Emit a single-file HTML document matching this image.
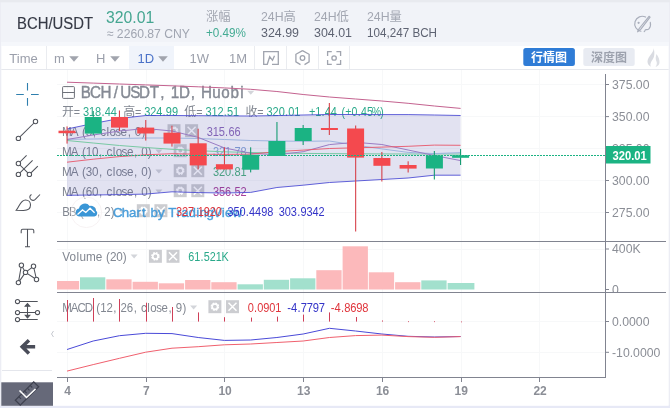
<!DOCTYPE html>
<html lang="zh-CN"><head><meta charset="utf-8"><title>BCH/USDT</title>
<style>
html,body{margin:0;padding:0;background:#eff2f8;}
body{width:670px;height:408px;overflow:hidden;position:relative;font-family:"Liberation Sans", "Noto Sans CJK SC", sans-serif;}
svg{position:absolute;left:0;top:0;display:block;}
text{font-family:"Liberation Sans", "Noto Sans CJK SC", sans-serif;}
</style></head><body>
<svg width="670" height="408" viewBox="0 0 670 408" role="img" aria-label="BCH/USDT chart">
<rect x="0" y="0" width="670" height="408" fill="#ecedf4"/>
<rect x="0" y="0" width="670" height="2.2" fill="#e8eaef"/>
<rect x="1" y="2.5" width="668" height="44" fill="#f1f3f8"/>
<rect x="1" y="42" width="668" height="4" fill="#f5f7fb"/>
<rect x="0" y="405" width="670" height="3" fill="#e7e9f6"/>
<rect x="1.3" y="46" width="667.4" height="359.8" fill="#ffffff"/>
<rect x="1.3" y="69" width="667.4" height="1" fill="#e6e8ed"/>
<rect x="129" y="46" width="45" height="23" fill="#f0f4fb"/>
<rect x="46.0" y="46" width="1" height="23" fill="#eaecf0"/>
<rect x="254.0" y="46" width="1" height="23" fill="#eaecf0"/>
<rect x="286.0" y="46" width="1" height="23" fill="#eaecf0"/>
<rect x="318.0" y="46" width="1" height="23" fill="#eaecf0"/>
<rect x="349.0" y="46" width="1" height="23" fill="#eaecf0"/>
<text x="17" y="29.2" font-size="16" fill="#363a46" stroke="#363a46" stroke-width="0.15" textLength="76" lengthAdjust="spacingAndGlyphs">BCH/USDT</text>
<text x="106" y="22.5" font-size="16.5" fill="#45a691" textLength="48.3" lengthAdjust="spacingAndGlyphs">320.01</text>
<text x="106.8" y="37.5" font-size="13" fill="#a0a5b1" textLength="83.2" lengthAdjust="spacingAndGlyphs">≈ 2260.87 CNY</text>
<text x="206" y="21" font-size="12.3" fill="#a3a7b2">涨幅</text>
<text x="206" y="37" font-size="12.5" fill="#44ab93" textLength="40" lengthAdjust="spacingAndGlyphs">+0.49%</text>
<text x="261" y="21" font-size="12.3" fill="#a3a7b2">24H高</text>
<text x="261" y="37" font-size="12.5" fill="#5e6372" textLength="38" lengthAdjust="spacingAndGlyphs">324.99</text>
<text x="314" y="21" font-size="12.3" fill="#a3a7b2">24H低</text>
<text x="314" y="37" font-size="12.5" fill="#5e6372" textLength="38" lengthAdjust="spacingAndGlyphs">304.01</text>
<text x="367" y="21" font-size="12.3" fill="#a3a7b2">24H量</text>
<text x="367" y="37" font-size="12.5" fill="#5e6372" textLength="70" lengthAdjust="spacingAndGlyphs">104,247 BCH</text>
<g fill="none" stroke="#a9aebb" stroke-width="1.15" stroke-linecap="round" stroke-linejoin="round">
<path d="M645.6 17.1a7.5 7.5 0 1 0 -4.6 14.1M650.3 22.3a7.5 7.5 0 0 1 -1.4 6.6c-1.2 1.3 -2.6 0.4 -3.4 0.9c-0.9 0.6 -0.4 1.6 -1.4 1.9"/>
<path d="M649 16.3l-9.8 12.2l-1.6 3.3l2.900 -2.2l9.600 -12.4z"/>
<circle cx="638.6" cy="22.8" r="0.55"/>
</g>
<text x="9.3" y="62.5" font-size="13" fill="#9b9fab">Time</text>
<text x="54" y="62.5" font-size="13" fill="#9b9fab">m</text>
<text x="96" y="62.5" font-size="13" fill="#9b9fab">H</text>
<text x="137.5" y="62.5" font-size="13" fill="#4b72c8">1D</text>
<text x="189.5" y="62.5" font-size="13" fill="#9b9fab">1W</text>
<text x="229" y="62.5" font-size="13" fill="#9b9fab">1M</text>
<path d="M69.2 56.3h9.6l-4.8 5.4z" fill="#a1a4ad"/>
<path d="M110.2 56.3h9.6l-4.8 5.4z" fill="#a1a4ad"/>
<path d="M158.2 56.3h9.6l-4.8 5.4z" fill="#a1a4ad"/>
<g fill="none" stroke="#a0a4ae" stroke-width="1.3">
<path d="M272 64.3h6.3v-12.6h-14.6v12.6h3.6l2.4 -7.6l2.8 3.6l2 -4.6"/>
<path d="M302.5 50.6l6.6 3.7v7.6l-4.6 2.7m-4 0l-4.6 -2.7v-7.6l6.6 -3.7"/><circle cx="302.5" cy="58" r="2.3"/>
<path d="M327.6 56v-4.300h4.200M336.400 51.700h4.200v4.300M340.600 60v4.300h-4.200M331.800 64.300h-4.200v-4.300"/><circle cx="334.1" cy="58" r="2.2"/>
</g>
<rect x="523.3" y="48" width="51.6" height="18" rx="2.5" fill="#2f7cd6"/>
<text x="549" y="61.5" font-size="12" font-weight="bold" fill="#ffffff" text-anchor="middle">行情图</text>
<rect x="583.3" y="48" width="51.4" height="18" rx="2.5" fill="#e8ebf2"/>
<text x="609" y="61.5" font-size="12" font-weight="bold" fill="#9da2ae" text-anchor="middle">深度图</text>
<path d="M653.5 47.5c1.500 4.200 -6 9 -6 14c0 2.600 1.500 4.300 3.300 5.200c-1.200 -2.600 0.300 -5 2 -7.400c1.600 -2.500 2.200 -6.300 0.700 -11.800z" fill="#d9dbe1"/>
<path d="M656.500 54c2.200 3 3 5.700 3 8.300c0 2.400 -1.600 4 -4 4.700c1.800 -2.400 1.600 -4.600 0.600 -6.500c-0.600 -1.800 -0.400 -4 0.400 -6.500z" fill="#dddfe4"/>
<rect x="2" y="370" width="50" height="1" fill="#e4e6ec"/>
<g stroke="#2f7fae" stroke-width="1.1" fill="none">
<path d="M27.5 83v7.600M27.500 98v7.700M16.200 94.500h7.600M31 94.500h7.700"/>
</g>
<g stroke="#50535b" stroke-width="1.05" fill="#fff">
<path d="M18.400 138.400L35.500 121.500" fill="none"/><circle cx="35.5" cy="121.500" r="2.200"/><circle cx="18.400" cy="138.400" r="2.200"/>
<path d="M18.400 163.500l8.200 -8.200M18.400 174.400l14.200 -14M18.400 163.500l11 10.900l8.400 -8.300" fill="none"/>
<circle cx="18.400" cy="163.500" r="2.200"/><circle cx="18.400" cy="174.400" r="2.200"/><circle cx="29.400" cy="174.400" r="2.200"/>
<path d="M16.300 210.200c3 -3.300 4.200 -10.200 9.200 -10.200c3 0 5 2.300 5 5c0 3.700 -3.300 5.400 -7 5.400z" fill="none"/>
<path d="M31.500 194.500c-1.800 0.800 -2.200 2.800 -1 4.500c1.300 1.500 3.400 1.500 4.800 0.300l4.700 -4.800" fill="none"/>
<path d="M21.200 233.300v-2.500c0 -1 0.500 -1.500 1.500 -1.500h9.600c1 0 1.500 0.500 1.500 1.500v2.500M27.500 229.300v17.400M25 246.700h5" fill="none"/>
<path d="M21.400 265.300l-3 17.300l7.100 -10.200l-4.100 -7.100M25.500 272.400l8 -6.100l3 13.200l-11 -7.100" fill="none"/>
<circle cx="21.4" cy="265.3" r="2.200"/>
<circle cx="33.5" cy="266.3" r="2.200"/>
<circle cx="25.5" cy="272.4" r="2.200"/>
<circle cx="36.5" cy="279.5" r="2.200"/>
<circle cx="18.4" cy="282.6" r="2.200"/>
<path d="M17.500 301.500h20.200M17.500 312.500h20M17.500 319.500h20.200M27.500 304.500v12.500" fill="none"/>
<path d="M25.200 306.200l2.300 -2.700l2.300 2.700zM25.200 315.200l2.300 2.700l2.300 -2.700z" fill="#50535b"/>
<circle cx="17.5" cy="301.5" r="2.100"/>
<circle cx="17.5" cy="312.5" r="2.100"/>
<circle cx="17.5" cy="319.5" r="2.100"/>
<circle cx="37.5" cy="312.5" r="2.100"/>
</g>
<path d="M33.4 346.800h-10.500M27.700 341.400l-5.500 5.400l5.500 5.400" fill="none" stroke="#4a4d59" stroke-width="3.500" stroke-linecap="square" stroke-linejoin="miter"/>
<path d="M53.500 331l-2 3l2 3" fill="none" stroke="#c5c8cf" stroke-width="1"/>
<rect x="1.300" y="382.300" width="51.700" height="23.500" fill="#666979"/>
<g transform="translate(27 393.500) rotate(-45)"><rect x="-13" y="-3.500" width="26" height="7" fill="none" stroke="#3f4250" stroke-width="1.300"/>
<path d="M-8 -3.500v3M-4 -3.500v3M0 -3.500v3M4 -3.500v3M8 -3.500v3" stroke="#3f4250" stroke-width="1.100" fill="none"/></g>
<path d="M19.500 390.500l7 7l9 -8.500" fill="none" stroke="#ffffff" stroke-width="1.600"/>
<g fill="#f7f8f9">
<rect x="67" y="70" width="1" height="307"/>
<rect x="146" y="70" width="1" height="307"/>
<rect x="224" y="70" width="1" height="307"/>
<rect x="303" y="70" width="1" height="307"/>
<rect x="382" y="70" width="1" height="307"/>
<rect x="461" y="70" width="1" height="307"/>
<rect x="539" y="70" width="1" height="307"/>
<rect x="57" y="84" width="548" height="1"/>
<rect x="57" y="116" width="548" height="1"/>
<rect x="57" y="148" width="548" height="1"/>
<rect x="57" y="180" width="548" height="1"/>
<rect x="57" y="212" width="548" height="1"/>
<rect x="57" y="249" width="548" height="1"/>
<rect x="57" y="321" width="548" height="1"/>
<rect x="57" y="352" width="548" height="1"/>
</g>
<rect x="62.6" y="86.6" width="11.8" height="11.8" rx="0.8" fill="none" stroke="#6e7179" stroke-width="1"/>
<path d="M62.6 92.5h11.8" stroke="#6e7179" stroke-width="1"/>
<text transform="translate(81.00 98.40) scale(0.944 1)" x="-0.34 9.57 20.72 34.78 41.63 52.12 61.42 72.94 84.06 90.01 95.11 103.89 116.19 122.14 127.06 139.07 148.71 158.45 168.64" y="0" font-size="16.13" fill="#858a94" stroke="#858a94" stroke-width="0.4">BCH/USDT, 1D, Huobi</text>
<path d="M247.3 90.8h7l-3.5 4z" fill="#d3d5da"/>
<text x="62" y="116.0" font-size="12" fill="#828791">开</text>
<text transform="translate(73.80 116.00) scale(0.880 1)" x="0.00" y="0" font-size="12.24" fill="#828791">=</text>
<text transform="translate(83.09 116.00) scale(0.904 1)" x="-0.06 6.61 13.28 20.28 23.89 30.55" y="0" font-size="12.19" fill="#2aa98a">318.44</text>
<text x="123.18299999999998" y="116.0" font-size="12" fill="#828791">高</text>
<text transform="translate(134.98 116.00) scale(0.880 1)" x="0.00" y="0" font-size="12.24" fill="#828791">=</text>
<text transform="translate(144.27 116.00) scale(0.904 1)" x="-0.06 6.61 13.28 20.28 23.89 30.55" y="0" font-size="12.19" fill="#2aa98a">324.99</text>
<text x="184.36599999999999" y="116.0" font-size="12" fill="#828791">低</text>
<text transform="translate(196.17 116.00) scale(0.880 1)" x="0.00" y="0" font-size="12.24" fill="#828791">=</text>
<text transform="translate(205.45 116.00) scale(0.904 1)" x="-0.06 6.61 13.28 20.28 23.89 30.55" y="0" font-size="12.19" fill="#2aa98a">312.51</text>
<text x="245.549" y="116.0" font-size="12" fill="#828791">收</text>
<text transform="translate(257.35 116.00) scale(0.880 1)" x="0.00" y="0" font-size="12.24" fill="#828791">=</text>
<text transform="translate(266.64 116.00) scale(0.904 1)" x="-0.06 6.61 13.28 20.28 23.89 30.55" y="0" font-size="12.19" fill="#2aa98a">320.01</text>
<text transform="translate(309.23 116.00) scale(0.897 1)" x="-0.20 6.69 13.73 17.38 24.09" y="0" font-size="12.19" fill="#2aa98a">+1.44</text>
<text transform="translate(341.10 116.00) scale(0.864 1)" x="0.41 4.82 11.96 19.21 23.07 30.04 35.50 45.32" y="0" font-size="12.19" fill="#2aa98a">(+0.45%)</text>
<text transform="translate(62.70 135.90) scale(0.956 1)" x="-0.70 8.36 16.26 20.07 24.22 31.45 35.59 39.16 45.76 48.87 55.05 60.59 67.95 72.08 75.50 82.38" y="0" font-size="12.24" fill="#828791">MA (5, close, 0)</text>
<path d="M149.2 129.4h7l-3.5 4z" fill="#d3d5da"/>
<g opacity="0.95">
<rect x="167.5" y="124.2" width="13" height="13" fill="#cacbcf"/>
<circle cx="174.0" cy="130.7" r="3.1" fill="none" stroke="#ffffff" stroke-width="2.4" stroke-dasharray="1.6 0.83"/>
<circle cx="174.0" cy="130.7" r="2.7" fill="none" stroke="#ffffff" stroke-width="1.4"/>
<rect x="185.1" y="124.2" width="13" height="13" fill="#cacbcf"/>
<path d="M187.6 126.7l8 8m0 -8l-8 8" stroke="#ffffff" stroke-width="1.5" fill="none"/>
</g>
<text transform="translate(206.79 135.90) scale(0.904 1)" x="-0.06 6.61 13.28 20.28 23.89 30.55" y="0" font-size="12.19" fill="#8f6cbb">315.66</text>
<text transform="translate(62.70 155.90) scale(0.953 1)" x="-0.69 8.41 16.33 20.15 24.33 30.85 38.09 42.25 45.84 52.45 55.59 61.79 67.35 74.73 78.88 82.31 89.22" y="0" font-size="12.24" fill="#828791">MA (10, close, 0)</text>
<path d="M155.4 149.4h7l-3.5 4z" fill="#d3d5da"/>
<g opacity="0.95">
<rect x="173.7" y="144.2" width="13" height="13" fill="#cacbcf"/>
<circle cx="180.2" cy="150.7" r="3.1" fill="none" stroke="#ffffff" stroke-width="2.4" stroke-dasharray="1.6 0.83"/>
<circle cx="180.2" cy="150.7" r="2.7" fill="none" stroke="#ffffff" stroke-width="1.4"/>
<rect x="191.3" y="144.2" width="13" height="13" fill="#cacbcf"/>
<path d="M193.8 146.7l8 8m0 -8l-8 8" stroke="#ffffff" stroke-width="1.5" fill="none"/>
</g>
<text transform="translate(213.00 155.90) scale(0.904 1)" x="-0.06 6.61 13.28 20.28 23.89 30.55" y="0" font-size="12.19" fill="#87a5d8">321.78</text>
<text transform="translate(62.70 175.90) scale(0.953 1)" x="-0.69 8.41 16.33 20.15 24.33 30.85 38.09 42.25 45.84 52.45 55.59 61.79 67.35 74.73 78.88 82.31 89.22" y="0" font-size="12.24" fill="#828791">MA (30, close, 0)</text>
<path d="M155.4 169.4h7l-3.5 4z" fill="#d3d5da"/>
<g opacity="0.95">
<rect x="173.7" y="164.2" width="13" height="13" fill="#cacbcf"/>
<circle cx="180.2" cy="170.7" r="3.1" fill="none" stroke="#ffffff" stroke-width="2.4" stroke-dasharray="1.6 0.83"/>
<circle cx="180.2" cy="170.7" r="2.7" fill="none" stroke="#ffffff" stroke-width="1.4"/>
<rect x="191.3" y="164.2" width="13" height="13" fill="#cacbcf"/>
<path d="M193.8 166.7l8 8m0 -8l-8 8" stroke="#ffffff" stroke-width="1.5" fill="none"/>
</g>
<text transform="translate(213.00 175.90) scale(0.904 1)" x="-0.06 6.61 13.28 20.28 23.89 30.55" y="0" font-size="12.19" fill="#4cb27e">320.81</text>
<text transform="translate(62.70 195.90) scale(0.953 1)" x="-0.69 8.41 16.33 20.15 24.33 30.85 38.09 42.25 45.84 52.45 55.59 61.79 67.35 74.73 78.88 82.31 89.22" y="0" font-size="12.24" fill="#828791">MA (60, close, 0)</text>
<path d="M155.4 189.4h7l-3.5 4z" fill="#d3d5da"/>
<g opacity="0.95">
<rect x="173.7" y="184.2" width="13" height="13" fill="#cacbcf"/>
<circle cx="180.2" cy="190.7" r="3.1" fill="none" stroke="#ffffff" stroke-width="2.4" stroke-dasharray="1.6 0.83"/>
<circle cx="180.2" cy="190.7" r="2.7" fill="none" stroke="#ffffff" stroke-width="1.4"/>
<rect x="191.3" y="184.2" width="13" height="13" fill="#cacbcf"/>
<path d="M193.8 186.7l8 8m0 -8l-8 8" stroke="#ffffff" stroke-width="1.5" fill="none"/>
</g>
<text transform="translate(213.00 195.90) scale(0.904 1)" x="-0.06 6.61 13.28 20.28 23.89 30.55" y="0" font-size="12.19" fill="#a9419b">356.52</text>
<text transform="translate(62.70 215.90) scale(0.933 1)" x="-0.49 6.70 14.58 18.48 22.77 29.43 36.78 41.02 44.56 51.58" y="0" font-size="12.24" fill="#828791">BB (20, 2)</text>
<path d="M118.5 209.4h7l-3.5 4z" fill="#d3d5da"/>
<g opacity="0.95">
<rect x="136.8" y="204.2" width="13" height="13" fill="#cacbcf"/>
<circle cx="143.3" cy="210.7" r="3.1" fill="none" stroke="#ffffff" stroke-width="2.4" stroke-dasharray="1.6 0.83"/>
<circle cx="143.3" cy="210.7" r="2.7" fill="none" stroke="#ffffff" stroke-width="1.4"/>
<rect x="154.4" y="204.2" width="13" height="13" fill="#cacbcf"/>
<path d="M156.9 206.7l8 8m0 -8l-8 8" stroke="#ffffff" stroke-width="1.5" fill="none"/>
</g>
<text transform="translate(113.90 216.50) scale(0.980 1)" x="-0.84 8.06 15.33 23.04 28.75 33.48 37.42 44.93 51.82 55.55 64.02 68.71 76.06 84.04 87.42 94.53 101.17 110.11 113.48 121.11" y="0" font-size="13.57" fill="#3d97d8" fill-opacity="0.9" stroke="#3d97d8" stroke-width="0.45" stroke-opacity="0.8">Chart by TradingView</text>
<text transform="translate(176.12 215.90) scale(0.900 1)" x="-0.04 6.65 13.35 20.37 24.01 30.70 37.40 44.10" y="0" font-size="12.19" fill="#e0353c">327.1920</text>
<text transform="translate(227.47 215.90) scale(0.900 1)" x="-0.04 6.65 13.35 20.37 24.01 30.70 37.40 44.10" y="0" font-size="12.19" fill="#3434c8">350.4498</text>
<text transform="translate(278.82 215.90) scale(0.900 1)" x="-0.04 6.65 13.35 20.37 24.01 30.70 37.40 44.10" y="0" font-size="12.19" fill="#3434c8">303.9342</text>
<text transform="translate(62.70 261.00) scale(0.959 1)" x="-0.46 7.16 14.35 17.49 24.30 34.48 41.41 45.20 49.34 55.81 62.67" y="0" font-size="12.24" fill="#828791">Volume (20)</text>
<path d="M130.6 254.5h7l-3.5 4z" fill="#d3d5da"/>
<g opacity="0.95">
<rect x="148.9" y="249.8" width="13" height="13" fill="#cacbcf"/>
<circle cx="155.4" cy="256.3" r="3.1" fill="none" stroke="#ffffff" stroke-width="2.4" stroke-dasharray="1.6 0.83"/>
<circle cx="155.4" cy="256.3" r="2.7" fill="none" stroke="#ffffff" stroke-width="1.4"/>
<rect x="166.5" y="249.8" width="13" height="13" fill="#cacbcf"/>
<path d="M169.0 252.3l8 8m0 -8l-8 8" stroke="#ffffff" stroke-width="1.5" fill="none"/>
</g>
<text transform="translate(188.16 261.00) scale(0.888 1)" x="0.00 6.79 13.89 17.59 24.38 31.17 37.61" y="0" font-size="12.19" fill="#2aa98a">61.521K</text>
<text transform="translate(62.70 311.90) scale(0.936 1)" x="-0.61 8.63 15.81 23.48 31.98 35.87 40.15 46.78 54.12 58.35 61.87 68.50 75.84 80.07 83.75 90.45 93.68 99.98 105.65 113.13 117.36 120.88 127.88" y="0" font-size="12.24" fill="#828791">MACD (12, 26, close, 9)</text>
<path d="M190.1 305.4h7l-3.5 4z" fill="#d3d5da"/>
<g opacity="0.95">
<rect x="208.4" y="300.2" width="13" height="13" fill="#cacbcf"/>
<circle cx="214.9" cy="306.7" r="3.1" fill="none" stroke="#ffffff" stroke-width="2.4" stroke-dasharray="1.6 0.83"/>
<circle cx="214.9" cy="306.7" r="2.7" fill="none" stroke="#ffffff" stroke-width="1.4"/>
<rect x="226.0" y="300.2" width="13" height="13" fill="#cacbcf"/>
<path d="M228.5 302.7l8 8m0 -8l-8 8" stroke="#ffffff" stroke-width="1.5" fill="none"/>
</g>
<text transform="translate(247.69 311.90) scale(0.904 1)" x="-0.06 6.94 10.56 17.22 23.89 30.55" y="0" font-size="12.19" fill="#e0353c">0.0901</text>
<text transform="translate(286.98 311.90) scale(0.917 1)" x="0.27 4.50 11.42 14.95 21.52 28.09 34.66" y="0" font-size="12.19" fill="#3434c8">-4.7797</text>
<text transform="translate(330.50 311.90) scale(0.917 1)" x="0.27 4.50 11.42 14.95 21.52 28.09 34.66" y="0" font-size="12.19" fill="#e0353c">-4.8698</text>
<polygon points="67.0,129.0 93.2,123.5 119.5,118.5 145.7,115.5 172.0,115.5 198.2,115.7 224.4,115.9 250.7,116.0 276.9,115.6 303.2,115.0 329.4,114.5 355.6,114.5 381.9,114.6 408.1,114.6 434.4,115.0 460.6,115.5 460.6,175.2 434.4,175.2 408.1,178.0 381.9,179.5 355.6,181.0 329.4,182.5 303.2,185.2 276.9,187.5 250.7,192.4 224.4,193.0 198.2,192.6 172.0,191.8 145.7,194.1 119.5,194.6 93.2,195.0 67.0,195.3" fill="#3a3a9e" fill-opacity="0.15"/>
<polyline points="67.0,82.2 93.2,83.1 119.5,84.0 145.7,84.9 172.0,85.8 198.2,86.8 224.4,87.9 250.7,89.3 276.9,91.5 303.2,94.5 329.4,97.0 355.6,99.0 381.9,101.0 408.1,103.3 434.4,106.0 460.6,108.4" fill="none" stroke="#c4628f" stroke-width="1" stroke-opacity="1" stroke-linejoin="round"/>
<polyline points="67.0,140.5 93.2,143.0 119.5,145.5 145.7,147.5 172.0,149.3 198.2,150.7 224.4,151.8 250.7,152.5 276.9,153.0 303.2,153.4 329.4,153.6 355.6,153.8 381.9,153.9 408.1,154.0 434.4,154.0 460.6,154.0" fill="none" stroke="#79c9a4" stroke-width="1" stroke-opacity="1" stroke-linejoin="round"/>
<polyline points="67.0,139.3 93.2,139.0 119.5,138.5 145.7,138.0 172.0,138.0 198.2,138.5 224.4,139.5 250.7,140.5 276.9,141.0 303.2,141.3 329.4,141.0 355.6,145.1 381.9,148.9 408.1,152.4 434.4,153.6 460.6,152.6" fill="none" stroke="#9fb4de" stroke-width="1" stroke-opacity="1" stroke-linejoin="round"/>
<polyline points="67.0,139.5 93.2,135.0 119.5,131.0 145.7,128.5 172.0,131.0 198.2,137.4 224.4,147.9 250.7,153.3 276.9,154.8 303.2,151.7 329.4,144.6 355.6,142.3 381.9,144.5 408.1,150.0 434.4,155.5 460.6,160.6" fill="none" stroke="#9a7cc4" stroke-width="1" stroke-opacity="1" stroke-linejoin="round"/>
<polyline points="67.0,162.2 93.2,159.2 119.5,156.6 145.7,154.8 172.0,153.7 198.2,154.2 224.4,154.4 250.7,154.2 276.9,151.6 303.2,150.1 329.4,148.5 355.6,147.8 381.9,147.1 408.1,146.3 434.4,145.1 460.6,145.3" fill="none" stroke="#e8566a" stroke-width="1" stroke-opacity="0.9" stroke-linejoin="round"/>
<polyline points="67.0,129.0 93.2,123.5 119.5,118.5 145.7,115.5 172.0,115.5 198.2,115.7 224.4,115.9 250.7,116.0 276.9,115.6 303.2,115.0 329.4,114.5 355.6,114.5 381.9,114.6 408.1,114.6 434.4,115.0 460.6,115.5" fill="none" stroke="#4646d2" stroke-width="1" stroke-opacity="0.85" stroke-linejoin="round"/>
<polyline points="67.0,195.3 93.2,195.0 119.5,194.6 145.7,194.1 172.0,191.8 198.2,192.6 224.4,193.0 250.7,192.4 276.9,187.5 303.2,185.2 329.4,182.5 355.6,181.0 381.9,179.5 408.1,178.0 434.4,175.2 460.6,175.2" fill="none" stroke="#4646d2" stroke-width="1" stroke-opacity="0.85" stroke-linejoin="round"/>
<rect x="66.5" y="126.4" width="1.100" height="17.2" fill="#d8434c"/>
<rect x="58.5" y="130.7" width="17" height="2.5" fill="#f4494e"/>
<rect x="92.7" y="111.0" width="1.100" height="24.0" fill="#179c72"/>
<rect x="84.7" y="117.0" width="17" height="16.6" fill="#1bb383"/>
<rect x="118.9" y="110.5" width="1.100" height="20.5" fill="#d8434c"/>
<rect x="111.0" y="117.0" width="17" height="10.6" fill="#f4494e"/>
<rect x="145.2" y="120.0" width="1.100" height="20.6" fill="#d8434c"/>
<rect x="137.2" y="127.6" width="17" height="5.9" fill="#f4494e"/>
<rect x="171.4" y="125.7" width="1.100" height="20.9" fill="#d8434c"/>
<rect x="163.5" y="132.7" width="17" height="10.9" fill="#f4494e"/>
<rect x="197.6" y="128.7" width="1.100" height="40.7" fill="#d8434c"/>
<rect x="189.7" y="143.3" width="17" height="22.1" fill="#f4494e"/>
<rect x="223.9" y="147.3" width="1.100" height="22.1" fill="#d8434c"/>
<rect x="215.9" y="164.2" width="17" height="5.2" fill="#f4494e"/>
<rect x="250.1" y="147.3" width="1.100" height="25.1" fill="#179c72"/>
<rect x="242.2" y="154.8" width="17" height="14.9" fill="#1bb383"/>
<rect x="276.4" y="122.0" width="1.100" height="34.0" fill="#179c72"/>
<rect x="268.4" y="141.0" width="17" height="15.0" fill="#1bb383"/>
<rect x="302.6" y="125.0" width="1.100" height="20.0" fill="#179c72"/>
<rect x="294.7" y="128.0" width="17" height="13.0" fill="#1bb383"/>
<rect x="328.8" y="103.0" width="1.100" height="32.0" fill="#d8434c"/>
<rect x="320.9" y="128.0" width="17" height="2.0" fill="#f4494e"/>
<rect x="355.1" y="125.5" width="1.100" height="106.0" fill="#d8434c"/>
<rect x="347.1" y="128.5" width="17" height="29.1" fill="#f4494e"/>
<rect x="381.3" y="152.0" width="1.100" height="29.5" fill="#d8434c"/>
<rect x="373.4" y="158.0" width="17" height="7.8" fill="#f4494e"/>
<rect x="407.6" y="161.3" width="1.100" height="11.2" fill="#d8434c"/>
<rect x="399.6" y="165.0" width="17" height="3.6" fill="#f4494e"/>
<rect x="433.8" y="151.0" width="1.100" height="28.5" fill="#179c72"/>
<rect x="425.9" y="155.4" width="17" height="13.1" fill="#1bb383"/>
<rect x="460.0" y="149.0" width="1.100" height="16.0" fill="#179c72"/>
<rect x="452.1" y="155.2" width="17" height="2.6" fill="#1bb383"/>
<path d="M57 155.500H605" stroke="#1bb383" stroke-width="1" stroke-dasharray="2 1" shape-rendering="crispEdges" fill="none"/>
<rect x="57" y="241" width="609" height="1" fill="#818490"/>
<rect x="57" y="292" width="609" height="1" fill="#818490"/>
<rect x="57" y="377" width="549" height="1" fill="#818490"/>
<rect x="605" y="74" width="1" height="304" fill="#818490"/>
<rect x="57.0" y="281.0" width="22.1" height="8.5" fill="#fcb9bb"/>
<rect x="80.0" y="277.3" width="25.3" height="12.2" fill="#a2e0cd"/>
<rect x="106.3" y="279.3" width="25.3" height="10.2" fill="#fcb9bb"/>
<rect x="132.6" y="281.8" width="25.3" height="7.7" fill="#fcb9bb"/>
<rect x="158.8" y="283.3" width="25.3" height="6.2" fill="#fcb9bb"/>
<rect x="185.1" y="280.0" width="25.3" height="9.5" fill="#fcb9bb"/>
<rect x="211.3" y="282.2" width="25.3" height="7.3" fill="#fcb9bb"/>
<rect x="237.6" y="284.3" width="25.3" height="5.2" fill="#a2e0cd"/>
<rect x="263.8" y="279.8" width="25.3" height="9.7" fill="#a2e0cd"/>
<rect x="290.1" y="278.3" width="25.3" height="11.2" fill="#a2e0cd"/>
<rect x="316.3" y="270.2" width="25.3" height="19.3" fill="#fcb9bb"/>
<rect x="342.6" y="246.3" width="25.3" height="43.2" fill="#fcb9bb"/>
<rect x="368.8" y="272.3" width="25.3" height="17.2" fill="#fcb9bb"/>
<rect x="395.1" y="282.2" width="25.3" height="7.3" fill="#fcb9bb"/>
<rect x="421.3" y="280.4" width="25.3" height="9.1" fill="#a2e0cd"/>
<rect x="447.6" y="283.0" width="26.8" height="6.5" fill="#a2e0cd"/>
<rect x="67" y="300.0" width="1" height="21.6" fill="#cf3f58"/>
<rect x="93" y="298.0" width="1" height="23.6" fill="#cf3f58"/>
<rect x="119" y="299.0" width="1" height="22.6" fill="#cf3f58"/>
<rect x="146" y="302.7" width="1" height="18.9" fill="#cf3f58"/>
<rect x="172" y="307.0" width="1" height="14.6" fill="#cf3f58"/>
<rect x="198" y="312.4" width="1" height="9.2" fill="#cf3f58"/>
<rect x="224" y="317.2" width="1" height="4.4" fill="#cf3f58"/>
<rect x="251" y="317.6" width="1" height="4.0" fill="#cf3f58"/>
<rect x="277" y="316.6" width="1" height="5.0" fill="#cf3f58"/>
<rect x="303" y="314.6" width="1" height="7.0" fill="#cf3f58"/>
<rect x="329" y="312.4" width="1" height="9.2" fill="#cf3f58"/>
<rect x="356" y="317.0" width="1" height="4.6" fill="#cf3f58"/>
<rect x="382" y="320.5" width="1" height="1.1" fill="#cf3f58"/>
<rect x="408" y="321.3" width="1" height="0.8" fill="#cf3f58"/>
<rect x="434" y="321.3" width="1" height="0.8" fill="#cf3f58"/>
<rect x="461" y="321.5" width="1" height="0.8" fill="#cf3f58"/>
<polyline points="67.0,349.5 93.2,341.0 119.5,335.7 145.7,333.3 172.0,333.6 198.2,337.5 224.4,340.4 250.7,340.0 276.9,337.5 303.2,334.0 329.4,328.3 355.6,331.0 381.9,334.0 408.1,336.3 434.4,337.0 460.6,336.5" fill="none" stroke="#4a4ad8" stroke-width="1" stroke-opacity="1" stroke-linejoin="round"/>
<polyline points="67.0,371.1 93.2,364.6 119.5,358.3 145.7,352.2 172.0,348.2 198.2,346.7 224.4,344.8 250.7,344.0 276.9,342.5 303.2,341.0 329.4,337.5 355.6,335.6 381.9,335.1 408.1,336.6 434.4,337.3 460.6,336.6" fill="none" stroke="#f0606e" stroke-width="1" stroke-opacity="1" stroke-linejoin="round"/>
<clipPath id="volclip"><rect x="606" y="242" width="60" height="50"/></clipPath>
<g font-size="12.25" fill="#8b8e96">
<rect x="606" y="84.0" width="3" height="1" fill="#818490"/>
<text x="612" y="88.8">375.00</text>
<rect x="606" y="116.1" width="3" height="1" fill="#818490"/>
<text x="612" y="120.9">350.00</text>
<rect x="606" y="148.1" width="3" height="1" fill="#818490"/>
<text x="612" y="152.9">325.00</text>
<rect x="606" y="180.0" width="3" height="1" fill="#818490"/>
<text x="612" y="184.8">300.00</text>
<rect x="606" y="212.0" width="3" height="1" fill="#818490"/>
<text x="612" y="216.8">275.00</text>
<rect x="606" y="248.5" width="3" height="1" fill="#818490"/>
<text x="612" y="253.3">400K</text>
<rect x="606" y="289.0" width="3" height="1" fill="#818490"/>
<text x="612" y="293.8" clip-path="url(#volclip)">0</text>
<rect x="606" y="321.0" width="3" height="1" fill="#818490"/>
<text x="612" y="325.8">0.0000</text>
<rect x="606" y="351.8" width="3" height="1" fill="#818490"/>
<text x="612" y="356.6">-10.0000</text>
</g>
<rect x="606" y="146" width="44.5" height="17.5" fill="#1bb383"/>
<text x="612.5" y="160" font-size="12" font-weight="bold" fill="#ffffff" textLength="34.3" lengthAdjust="spacingAndGlyphs">320.01</text>
<g font-size="12" font-weight="bold" fill="#8b8e96" text-anchor="middle">
<rect x="67" y="378" width="1" height="4" fill="#818490"/>
<text x="67.6" y="394.500">4</text>
<rect x="146" y="378" width="1" height="4" fill="#818490"/>
<text x="146.3" y="394.500">7</text>
<rect x="224" y="378" width="1" height="4" fill="#818490"/>
<text x="225.1" y="394.500">10</text>
<rect x="303" y="378" width="1" height="4" fill="#818490"/>
<text x="303.8" y="394.500">13</text>
<rect x="382" y="378" width="1" height="4" fill="#818490"/>
<text x="382.6" y="394.500">16</text>
<rect x="461" y="378" width="1" height="4" fill="#818490"/>
<text x="461.3" y="394.500">19</text>
<rect x="539" y="378" width="1" height="4" fill="#818490"/>
<text x="540.1" y="394.500">22</text>
</g>
<circle cx="86.3" cy="212.3" r="15.3" fill="#ffffff" fill-opacity="0.25" stroke="#f6f1f2" stroke-width="0.9"/>
<path d="M79.6 216.6a4.1 4.1 0 0 1 -0.6 -8.1a6 6 0 0 1 10.6 -2.6a5 5 0 0 1 6.2 4.7a3.3 3.3 0 0 1 -1.4 6z" fill="#3a96d6"/>
<path d="M77.5 214.5l5 -4.6l3.3 2.6l4.2 -4.3l4.6 4.6" fill="none" stroke="#ffffff" stroke-width="1.3"/>
</svg>
</body></html>
